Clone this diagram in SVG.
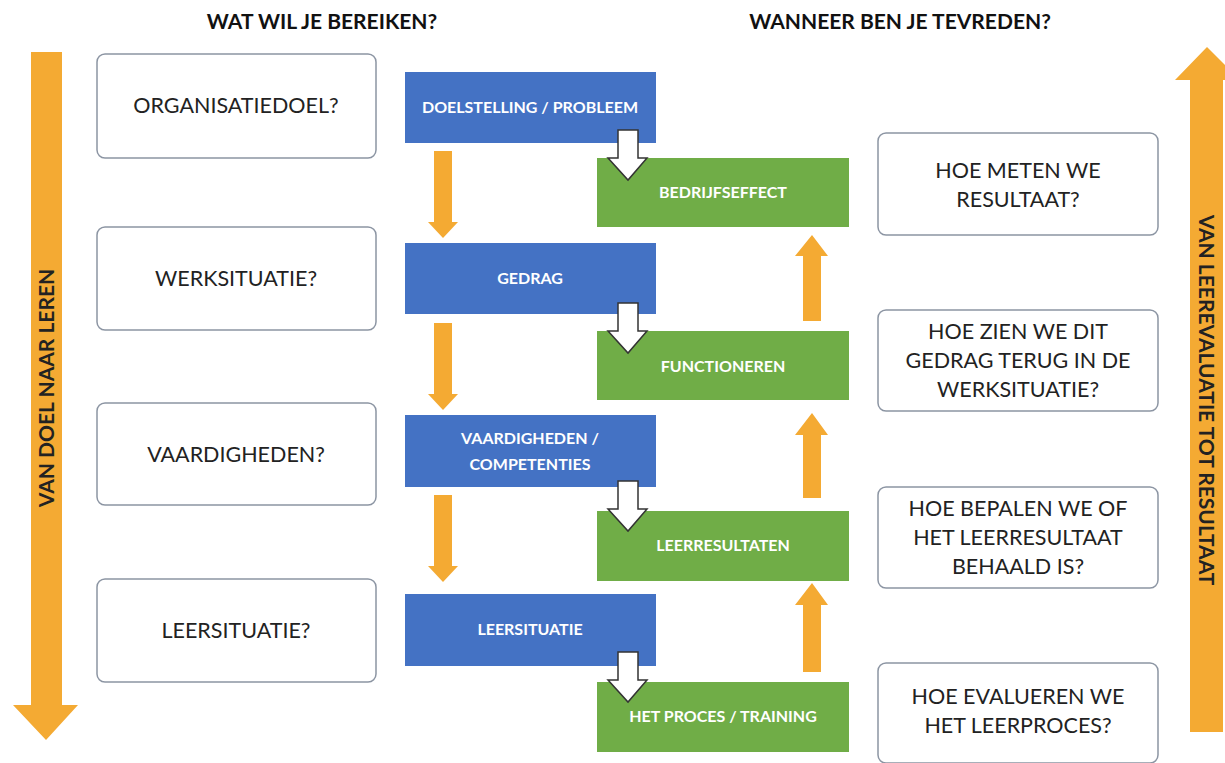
<svg xmlns="http://www.w3.org/2000/svg" width="1225" height="763" viewBox="0 0 1225 763">
<style>
.q{fill:#fff;stroke:#8c95a3;stroke-width:1.5}
.qt{font-family:Lato,"Liberation Sans",sans-serif;font-size:21.5px;fill:#222;text-anchor:middle}
.b{fill:#4472c4}
.g{fill:#70ad47}
.bt{font-family:Lato,"Liberation Sans",sans-serif;font-size:16px;font-weight:bold;fill:#fff;text-anchor:middle}
.h{font-family:Lato,"Liberation Sans",sans-serif;font-size:21px;font-weight:bold;fill:#111;text-anchor:middle}
.o{fill:#f4aa33}
.w{fill:#fff;stroke:#333;stroke-width:1.5}
.vt{font-family:Lato,"Liberation Sans",sans-serif;font-size:21px;font-weight:bold;fill:#222;text-anchor:middle}
</style>
<rect width="1225" height="763" fill="#fff"/>
<text class="h" x="322" y="29">WAT WIL JE BEREIKEN?</text>
<text class="h" x="900" y="29">WANNEER BEN JE TEVREDEN?</text>

<g id="side-left">
<path class="o" d="M31 52H62V705H78L46 740L13 705H31Z"/>
<text class="vt" transform="translate(54 388) rotate(-90)">VAN DOEL NAAR LEREN</text>
</g>
<g id="side-right">
<path class="o" d="M1190 732V80H1175L1207 47L1240 80H1223V732Z"/>
<text class="vt" transform="translate(1199 400) rotate(90)">VAN LEEREVALUATIE TOT RESULTAAT</text>
</g>

<g id="q-organisatiedoel"><rect class="q" x="97" y="54" width="279" height="104" rx="8"/><text class="qt" x="236" y="113">ORGANISATIEDOEL?</text></g>
<g id="q-werksituatie"><rect class="q" x="97" y="227" width="279" height="103" rx="8"/><text class="qt" x="236" y="286">WERKSITUATIE?</text></g>
<g id="q-vaardigheden"><rect class="q" x="97" y="403" width="279" height="102" rx="8"/><text class="qt" x="236" y="462">VAARDIGHEDEN?</text></g>
<g id="q-leersituatie"><rect class="q" x="97" y="579" width="279" height="103" rx="8"/><text class="qt" x="236" y="638">LEERSITUATIE?</text></g>

<g id="q-meten"><rect class="q" x="878" y="133" width="280" height="102" rx="8"/><text class="qt" x="1018" y="178">HOE METEN WE</text><text class="qt" x="1018" y="207">RESULTAAT?</text></g>
<g id="q-gedrag"><rect class="q" x="878" y="310" width="280" height="101" rx="8"/><text class="qt" x="1018" y="339">HOE ZIEN WE DIT</text><text class="qt" x="1018" y="368">GEDRAG TERUG IN DE</text><text class="qt" x="1018" y="397">WERKSITUATIE?</text></g>
<g id="q-bepalen"><rect class="q" x="878" y="487" width="280" height="101" rx="8"/><text class="qt" x="1018" y="516">HOE BEPALEN WE OF</text><text class="qt" x="1018" y="545">HET LEERRESULTAAT</text><text class="qt" x="1018" y="574">BEHAALD IS?</text></g>
<g id="q-evalueren"><rect class="q" x="878" y="663" width="280" height="100" rx="8"/><text class="qt" x="1018" y="704">HOE EVALUEREN WE</text><text class="qt" x="1018" y="733">HET LEERPROCES?</text></g>

<g id="b-doelstelling"><rect class="b" x="405" y="72" width="251" height="71"/><text class="bt" x="530" y="113">DOELSTELLING / PROBLEEM</text></g>
<g id="b-gedrag"><rect class="b" x="405" y="243" width="251" height="71"/><text class="bt" x="530" y="284">GEDRAG</text></g>
<g id="b-vaardigheden"><rect class="b" x="405" y="415" width="251" height="72"/><text class="bt" x="530" y="444">VAARDIGHEDEN /</text><text class="bt" x="530" y="470">COMPETENTIES</text></g>
<g id="b-leersituatie"><rect class="b" x="405" y="594" width="251" height="72"/><text class="bt" x="530" y="635">LEERSITUATIE</text></g>

<g id="g-bedrijfseffect"><rect class="g" x="597" y="158" width="252" height="69"/><text class="bt" x="723" y="198">BEDRIJFSEFFECT</text></g>
<g id="g-functioneren"><rect class="g" x="597" y="331" width="252" height="69"/><text class="bt" x="723" y="372">FUNCTIONEREN</text></g>
<g id="g-leerresultaten"><rect class="g" x="597" y="511" width="252" height="70"/><text class="bt" x="723" y="551">LEERRESULTATEN</text></g>
<g id="g-proces"><rect class="g" x="597" y="682" width="252" height="70"/><text class="bt" x="723" y="722">HET PROCES / TRAINING</text></g>

<g id="connectors">
<path class="o" d="M434 151H452V222H458L443 238L428 222H434Z"/>
<path class="o" d="M434 323H452V394H458L443 410L428 394H434Z"/>
<path class="o" d="M434 495H452V566H458L443 582L428 566H434Z"/>
<path class="o" d="M803 321H821V256H828L812 235L795 256H803Z"/>
<path class="o" d="M803 498H821V435H828L812 413L795 435H803Z"/>
<path class="o" d="M803 672H821V605H828L812 583L795 605H803Z"/>
<path class="w" d="M618 130H638V158H647L628 180L608 158H618Z"/>
<path class="w" d="M618 303H638V331H647L628 353L608 331H618Z"/>
<path class="w" d="M618 481H638V509H647L628 531L608 509H618Z"/>
<path class="w" d="M618 652H638V680H647L628 702L608 680H618Z"/>
</g>
</svg>
